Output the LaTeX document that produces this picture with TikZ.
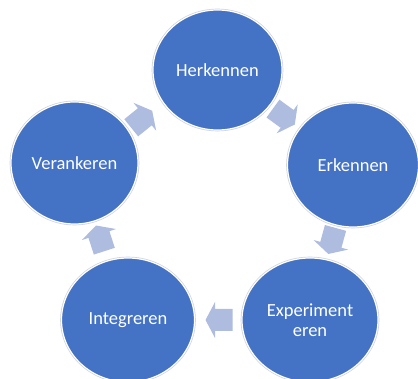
\documentclass[tikz,border=0pt]{standalone}
\usepackage{fontspec}
\setmainfont{Carlito}
\usetikzlibrary{shapes.geometric,calc}
\definecolor{circblue}{HTML}{4472C4}
\definecolor{arrowblue}{RGB}{174,188,224}
\tikzset{
  stage/.style={ellipse, fill=circblue, draw=white, line width=1.2pt,
    preaction={draw=black!18, line width=2.6pt},
    minimum width=131pt, minimum height=123pt, inner sep=0pt,
    text=white, align=center, font=\fontsize{18.5}{20}\selectfont},
  blockarrow/.pic={\fill[arrowblue] (-13.5,-11) -- (4,-11) -- (4,-18) -- (13.5,0)
     -- (4,18) -- (4,11) -- (-13.5,11) -- cycle;}
}
\newcommand{\cyclearrow}[4]{%
  \path let \p1=($(#2)-(#1)$), \n1={atan2(\y1,\x1)+#4} in
    ($(#1)!#3!(#2)$) pic[rotate=\n1] {blockarrow};}
\begin{document}
\begin{tikzpicture}[x=1pt,y=-1pt]
\useasboundingbox (0,0) rectangle (418,379);
\clip (0,0) rectangle (418,379);
\node[stage, minimum width=129pt, minimum height=120pt] (h) at (217.5,70) {Herkennen};
\node[stage, minimum height=124pt] (e) at (353,165) {Erkennen};
\node[stage, minimum width=136pt, minimum height=124pt] (x) at (310,320) {Experiment\\eren};
\node[stage, minimum width=133pt, minimum height=124pt] (i) at (128,320) {Integreren};
\node[stage, minimum width=127pt, minimum height=122pt] (v) at (74.5,163) {Verankeren};
\cyclearrow{v}{h}{0.47}{6}
\cyclearrow{h}{e}{0.49}{-1}
\cyclearrow{e}{x}{0.49}{0}
\cyclearrow{x}{i}{0.5}{0}
\cyclearrow{i}{v}{0.52}{-1}
\end{tikzpicture}
\end{document}
